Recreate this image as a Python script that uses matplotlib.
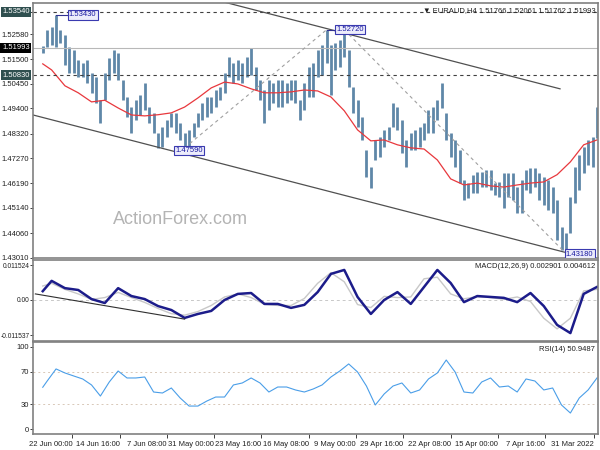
import numpy as np
import matplotlib.pyplot as plt

plt.rcParams['font.family'] = ['Liberation Sans', 'DejaVu Sans']

# H4 bars, oldest first (the chart is drawn right-to-left), one bar every 3 H4 periods
highs = [1.4946, 1.4818, 1.4805, 1.4775, 1.4741, 1.4689, 1.4560, 1.4406, 1.4432, 1.4547,
         1.4603, 1.4633, 1.4646, 1.4663, 1.4685, 1.4685, 1.4676, 1.4633, 1.4603, 1.4663,
         1.4663, 1.4663, 1.4625, 1.4620, 1.4676, 1.4676, 1.4668, 1.4668, 1.4655, 1.4620,
         1.4633, 1.4762, 1.4805, 1.4835, 1.4921, 1.5049, 1.4977, 1.4946, 1.4934, 1.4878,
         1.4861, 1.4848, 1.4835, 1.4805, 1.4891, 1.4946, 1.4964, 1.4861, 1.4848, 1.4818,
         1.4805, 1.4689, 1.4762, 1.4904, 1.4977, 1.5032, 1.5191, 1.5277, 1.5234, 1.5221,
         1.5212, 1.5277, 1.5212, 1.5191, 1.5135, 1.5118, 1.5049, 1.4977, 1.5062, 1.5062,
         1.5049, 1.5062, 1.5062, 1.5049, 1.5062, 1.5019, 1.5062, 1.5118, 1.5200, 1.5161,
         1.5135, 1.5148, 1.5135, 1.5161, 1.5092, 1.5032, 1.5019, 1.4989, 1.4989, 1.4964,
         1.4921, 1.4878, 1.4848, 1.4835, 1.4878, 1.4921, 1.4921, 1.4891, 1.4861, 1.4835,
         1.4921, 1.4946, 1.5049, 1.4998, 1.4977, 1.4946, 1.4989, 1.5062, 1.5178, 1.5191,
         1.5157, 1.5092, 1.4977, 1.5075, 1.5092, 1.5148, 1.5135, 1.5148, 1.5191, 1.5204,
         1.5255, 1.5277, 1.5341, 1.5290, 1.5277, 1.5206]
lows = [1.4814, 1.4689, 1.4698, 1.4663, 1.4590, 1.4535, 1.4406, 1.4318, 1.4333, 1.4376,
        1.4492, 1.4505, 1.4526, 1.4547, 1.4603, 1.4578, 1.4590, 1.4492, 1.4492, 1.4547,
        1.4560, 1.4513, 1.4560, 1.4569, 1.4590, 1.4603, 1.4603, 1.4578, 1.4578, 1.4556,
        1.4547, 1.4620, 1.4689, 1.4732, 1.4805, 1.4942, 1.4891, 1.4835, 1.4835, 1.4805,
        1.4775, 1.4762, 1.4762, 1.4689, 1.4749, 1.4848, 1.4861, 1.4805, 1.4775, 1.4732,
        1.4719, 1.4599, 1.4646, 1.4805, 1.4861, 1.4921, 1.5032, 1.5161, 1.5118, 1.5105,
        1.4998, 1.5135, 1.5084, 1.5075, 1.4989, 1.4989, 1.4934, 1.4891, 1.4964, 1.4977,
        1.4964, 1.4946, 1.4946, 1.4964, 1.4934, 1.4878, 1.4977, 1.5019, 1.5084, 1.5075,
        1.5049, 1.5062, 1.5049, 1.5075, 1.5007, 1.4977, 1.4946, 1.4921, 1.4904, 1.4891,
        1.4861, 1.4818, 1.4775, 1.4771, 1.4805, 1.4835, 1.4861, 1.4818, 1.4775, 1.4771,
        1.4835, 1.4878, 1.4934, 1.4912, 1.4891, 1.4835, 1.4904, 1.4977, 1.5062, 1.5092,
        1.5062, 1.4977, 1.4878, 1.4964, 1.5007, 1.5049, 1.5075, 1.5075, 1.5092, 1.5092,
        1.5127, 1.5221, 1.5204, 1.5212, 1.5204, 1.5176]

# moving average, MACD and signal read every 3rd bar (plus the last one)
ma_vals = [1.4805, 1.4784, 1.4711, 1.4656, 1.4625, 1.4620, 1.4612, 1.4603, 1.4608, 1.4620,
           1.4612, 1.4638, 1.4719, 1.4766, 1.4771, 1.4784, 1.4805, 1.4801, 1.4848, 1.4930,
           1.4989, 1.5015, 1.5019, 1.5011, 1.5007, 1.5007, 1.5024, 1.5045, 1.5053, 1.5028,
           1.4985, 1.4946, 1.4921, 1.4913, 1.4908, 1.4912, 1.4942, 1.4975, 1.4968, 1.5007,
           1.5037, 1.5105, 1.5131]
macd_vals = [0.0043, 0.0020, -0.0109, -0.0082, -0.0020, 0.0023, -0.0007, 0.0007, 0.0010, 0.0013,
             -0.0007, 0.0056, 0.0099, 0.0043, -0.0013, 0.0026, 0.0000, -0.0046, 0.0010, 0.0099,
             0.0086, 0.0026, -0.0016, -0.0026, -0.0013, -0.0013, 0.0023, 0.0020, 0.0000, -0.0036,
             -0.0046, -0.0059, -0.0033, -0.0020, 0.0003, 0.0013, 0.0039, -0.0010, 0.0003, 0.0033,
             0.0039, 0.0063, 0.0029]
signal_vals = [0.0035, 0.0030, -0.0060, -0.0095, -0.0060, -0.0005, 0.0010, 0.0002, 0.0008, 0.0011,
               0.0004, 0.0020, 0.0075, 0.0070, 0.0010, 0.0008, 0.0012, -0.0025, -0.0015, 0.0060,
               0.0090, 0.0055, 0.0005, -0.0018, -0.0018, -0.0014, 0.0008, 0.0020, 0.0010, -0.0018,
               -0.0038, -0.0050, -0.0045, -0.0028, -0.0008, 0.0008, 0.0025, 0.0008, 0.0002, 0.0020,
               0.0035, 0.0055, 0.0046]
# RSI read every 2nd bar (plus the last one)
rsi_vals = [62.2, 47.6, 37.8, 19.5, 29.3, 50.0, 47.6, 58.5, 61.0, 45.1,
            52.4, 51.2, 62.2, 57.3, 43.9, 45.1, 69.5, 84.1, 68.3, 61.0,
            47.6, 43.9, 56.1, 52.4, 42.7, 29.3, 52.4, 69.5, 79.3, 70.7,
            63.4, 53.7, 48.8, 45.1, 47.6, 51.2, 51.2, 45.1, 56.1, 62.2,
            56.1, 53.7, 39.0, 39.0, 34.1, 28.0, 28.0, 37.8, 50.0, 43.9,
            45.1, 63.4, 62.2, 62.2, 70.7, 57.3, 40.2, 53.7, 61.0, 64.6,
            68.3, 73.2, 58.5, 50.9]

tick_labels = ["31 Mar 2022", "7 Apr 16:00", "15 Apr 00:00", "22 Apr 08:00", "29 Apr 16:00",
               "9 May 00:00", "16 May 08:00", "23 May 16:00", "31 May 00:00", "7 Jun 08:00",
               "14 Jun 16:00", "22 Jun 00:00"]
tick_h4 = [2, 35, 67, 99, 131, 163, 195, 227, 259, 291, 323, 355]

price_ticks = [1.53540, 1.52580, 1.51500, 1.50450, 1.49400, 1.48320, 1.47270,
               1.46190, 1.45140, 1.44060, 1.43010]

t = np.arange(len(highs)) * 3
idx3 = np.r_[0:len(highs):3, len(highs) - 1]
idx2 = np.r_[0:len(highs):2, len(highs) - 1]

fig = plt.figure(figsize=(6, 4.5), dpi=100)
ax1 = fig.add_axes([0.055, 0.4267, 0.9417, 0.5667])
ax2 = fig.add_axes([0.055, 0.2422, 0.9417, 0.18])
ax3 = fig.add_axes([0.055, 0.0356, 0.9417, 0.2044])

for ax in (ax1, ax2, ax3):
    ax.set_xlim(381.6, -0.7)
    for s in ax.spines.values():
        s.set_color('#808080')
        s.set_linewidth(1.2)
    ax.tick_params(axis='y', labelsize=5.5, length=2, width=0.6, colors='#202020', pad=1)
    ax.tick_params(axis='x', length=0)
    ax.set_xticks([])

# ---- price panel
ax1.set_ylim(1.4299, 1.5392)
ax1.vlines(t, lows, highs, color='#5f87a8', lw=2.0)
ax1.plot(t[idx3], ma_vals, color='#e8383d', lw=0.9)
ax1.axhline(1.53540, color='#404040', lw=0.8, ls=(0, (3, 3)))
ax1.axhline(1.50830, color='#404040', lw=0.8, ls=(0, (3, 3)))
ax1.axhline(1.51993, color='#b8b8b8', lw=0.8)
ax1.plot([253, 25], [1.5397, 1.5024], color='#505050', lw=0.9)
ax1.plot([381.6, 19.6], [1.4912, 1.4320], color='#505050', lw=0.9)
ax1.plot([279, 183], [1.4771, 1.5277], color='#a0a0a0', lw=0.8, ls=(0, (3, 3)))
ax1.plot([171, 21], [1.5277, 1.4318], color='#a0a0a0', lw=0.8, ls=(0, (3, 3)))
ax1.set_yticks(price_ticks)
ax1.set_yticklabels([f"{p:.5f}" for p in price_ticks])

box = dict(boxstyle='square,pad=0.15', fc='#ececfb', ec='#3a3ab0', lw=0.8)
ax1.plot([366, 358], [1.5341, 1.5341], color='#303090', lw=0.8)
ax1.text(348, 1.5341, "1.53430", fontsize=5.5, color='#1818a0', ha='center', va='center', bbox=box)
ax1.plot([183, 176], [1.5277, 1.5277], color='#303090', lw=0.8)
ax1.text(167, 1.5277, "1.52720", fontsize=5.5, color='#1818a0', ha='center', va='center', bbox=box)
ax1.text(276, 1.4759, "1.47590", fontsize=5.5, color='#1818a0', ha='center', va='center', bbox=box)
ax1.text(21, 1.4316, "1.43180", fontsize=5.5, color='#1818a0', ha='left', va='center',
         bbox=box, clip_on=True)

ytr = ax1.get_yaxis_transform()
for lvl, fc in [(1.53540, '#2f4f4f'), (1.50830, '#2f4f4f'), (1.51993, '#000000')]:
    ax1.text(-0.006, lvl, f"{lvl:.5f}", transform=ytr, fontsize=5.5, color='white',
             ha='right', va='center', bbox=dict(boxstyle='square,pad=0.2', fc=fc, ec='none'))

ax1.text(0.995, 0.985, "\u25bc EURAUD,H4 1.51766 1.52061 1.51762 1.51993", transform=ax1.transAxes,
         fontsize=5.5, ha='right', va='top', color='#202020')
ax1.text(282, 1.4462, "ActionForex.com", fontsize=13, color='#b4b4b4', ha='center', va='center')

# ---- MACD panel
ax2.set_ylim(-0.01351, 0.01317)
ax2.axhline(0, color='#c8c8c8', lw=0.7, ls=(0, (3, 3)))
ax2.plot(t[idx3], signal_vals, color='#c8c8c8', lw=1.0)
ax2.plot(t[idx3], macd_vals, color='#1c1c8a', lw=1.8)
ax2.plot([380, 279], [0.0020, -0.0063], color='#303030', lw=0.8)
ax2.set_yticks([0.011524, 0.0, -0.011537])
ax2.set_yticklabels(["0.011524", "0.00", "-0.011537"])
ax2.tick_params(axis='y', labelsize=4.8, pad=0.5)
ax2.text(0.995, 0.96, "MACD(12,26,9) 0.002901 0.004612", transform=ax2.transAxes,
         fontsize=5.5, ha='right', va='top', color='#202020')

# ---- RSI panel
ax3.set_ylim(-6, 106)
ax3.axhline(70, color='#d8c8b8', lw=0.7, ls=(0, (2, 3)))
ax3.axhline(30, color='#d8c8b8', lw=0.7, ls=(0, (2, 3)))
ax3.plot(t[idx2], rsi_vals, color='#4a9ee8', lw=0.8)
ax3.set_yticks([100, 70, 30, 0])
ax3.set_yticklabels(["100", "70", "30", "0"])
ax3.text(0.995, 0.955, "RSI(14) 50.9487", transform=ax3.transAxes,
         fontsize=5.5, ha='right', va='top', color='#202020')
ax3.set_xticks(tick_h4)
ax3.set_xticklabels(tick_labels, ha='right')
ax3.tick_params(axis='x', labelsize=5.5, length=3, width=0.6, colors='#202020', pad=2)

fig.savefig("out.png", dpi=100)
